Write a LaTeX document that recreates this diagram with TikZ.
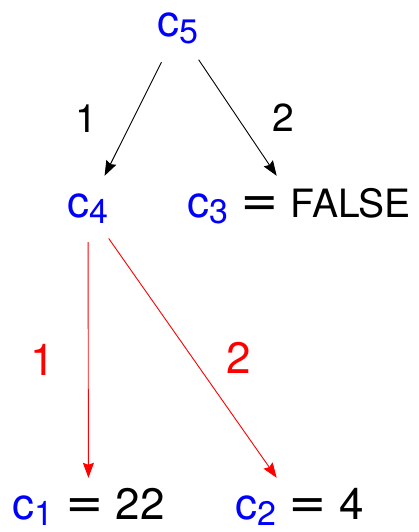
\documentclass[tikz,border=0pt]{standalone}
\usepackage{fontspec}
\setmainfont{TeX Gyre Heros}
\newfontfamily\eqfont{DejaVu Sans}
\usetikzlibrary{arrows.meta,positioning}
\newcommand{\cvar}[1]{\textcolor{blue}{c\raisebox{-6.5pt}{\fontsize{34}{34}\selectfont #1}}}
\newcommand{\eqs}{{\eqfont\fontsize{46}{50}\selectfont =}}

\begin{document}
\begin{tikzpicture}[x=1pt,y=1pt,
    cnode/.style={inner sep=0pt, text height=26pt, text depth=10pt, minimum height=66pt,
                  font=\fontsize{44}{50}\selectfont},
    edge/.style={-{Stealth[length=15pt,width=11pt,inset=2pt]}, line width=0.9pt},
    redge/.style={edge, red},
    lbl/.style={inner sep=0pt, font=\fontsize{39}{42}\selectfont},
    rlbl/.style={inner sep=0pt, text=red, font=\fontsize{44}{46}\selectfont}]
    \useasboundingbox (0,0) rectangle (419,-532);

    % root
    \node[cnode] (c5) at (178,-29) {\cvar{5}};

    % second level
    \node[cnode] (c4) at (88,-209) {\cvar{4}};
    \node[cnode] (c3) at (299,-209) {\cvar{3} \eqs{} {\fontsize{39}{42}\selectfont FALSE}};

    % leaves
    \node[cnode] (c1) at (88.5,-511) {\cvar{1} \eqs{} 22};
    \node[cnode] (c2) at (300,-511) {\cvar{2} \eqs{} 4};

    % black arrows
    \draw[edge] (c5) -- node[lbl, midway, left=35.5pt] {1} (c4);
    \draw[edge] (c5) -- node[lbl, midway, right=34.5pt] {2} (c3);

    % red arrows
    \draw[redge] (c4) -- node[rlbl, midway, left=33pt] {1} (c1);
    \draw[redge] (c4) -- node[rlbl, midway, right=33pt] {2} (c2);
\end{tikzpicture}
\end{document}
